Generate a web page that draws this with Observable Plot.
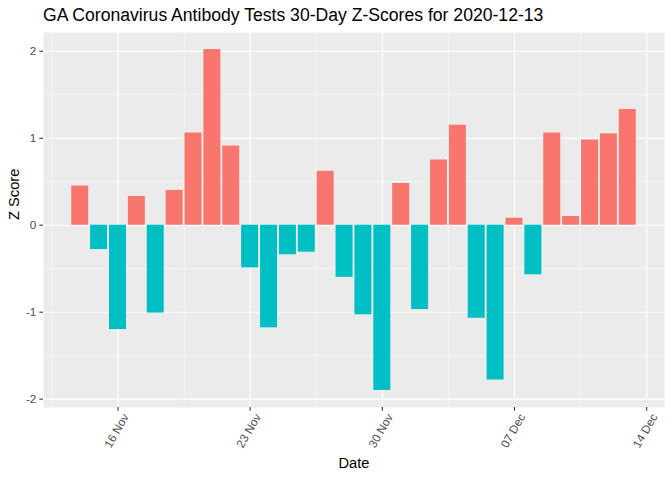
<!DOCTYPE html>
<html>
<head>
<meta charset="utf-8">
<script src="https://cdn.jsdelivr.net/npm/d3@7"></script>
<script src="https://cdn.jsdelivr.net/npm/@observablehq/plot@0.6"></script>
<style>
  body { margin: 0; background: #fff; font-family: "Liberation Sans", Arial, sans-serif; }
  #wrap { position: relative; width: 672px; height: 480px; background: #fff; }
  #title { height: 32px; box-sizing: border-box; padding-left: 43px; padding-top: 5px; font-size: 17.6px; color: #000; line-height: 20px; white-space: nowrap; }
</style>
</head>
<body>
<div id="wrap">
  <div id="title">GA Coronavirus Antibody Tests 30-Day Z-Scores for 2020-12-13</div>
  <div id="chart"></div>
</div>
<script>
// ---- data ----
const startDate = "2020-11-14";
const zScores = [
  0.45, -0.28, -1.20, 0.33, -1.01, 0.40, 1.06, 2.02, 0.91, -0.49,
  -1.18, -0.34, -0.31, 0.62, -0.60, -1.03, -1.90, 0.48, -0.97, 0.75,
  1.15, -1.07, -1.78, 0.08, -0.57, 1.06, 0.10, 0.98, 1.05, 1.33
];
const signLabels = ["Positive", "Negative"];
const signColors = ["#F8766D", "#00BFC4"];
const majorTickDates = ["2020-11-16", "2020-11-23", "2020-11-30", "2020-12-07", "2020-12-14"];
const minorTickDates = ["2020-11-12T12:00", "2020-11-19T12:00", "2020-11-26T12:00", "2020-12-03T12:00", "2020-12-10T12:00"];
const majorY = [-2, -1, 0, 1, 2];
const minorY = [-1.5, -0.5, 0.5, 1.5];

// ---- build ----
const DAY = 864e5;
const t0 = new Date(startDate + "T00:00Z").getTime();
const data = zScores.map((z, i) => ({
  date: new Date(t0 + i * DAY),
  z,
  sign: z > 0 ? "Positive" : "Negative"
}));
const toUTC = s => new Date(s + (s.includes("T") ? "Z" : "T00:00Z"));
const majorX = majorTickDates.map(toUTC);
const minorX = minorTickDates.map(toUTC);
const fmtDate = d3.utcFormat("%d %b");

// ggplot-like expansion
const half = 0.45 * DAY;
const xMin = t0 - half, xMax = t0 + (zScores.length - 1) * DAY + half;
const xPad = (xMax - xMin) * 0.05;
const yLo = Math.min(0, d3.min(zScores)), yHi = Math.max(0, d3.max(zScores));
const yPad = (yHi - yLo) * 0.05;

const chart = Plot.plot({
  width: 672,
  height: 448,
  marginLeft: 43,
  marginRight: 8,
  marginTop: 0,
  marginBottom: 73,
  style: { fontFamily: "Liberation Sans, Arial, sans-serif", background: "#fff", overflow: "visible" },
  x: { type: "utc", domain: [new Date(xMin - xPad), new Date(xMax + xPad)] },
  y: { domain: [yLo - yPad, yHi + yPad] },
  color: { domain: signLabels, range: signColors },
  marks: [
    Plot.frame({ fill: "#EBEBEB", stroke: null }),
    Plot.ruleY(minorY, { stroke: "#fff", strokeWidth: 0.53 }),
    Plot.ruleX(minorX, { stroke: "#fff", strokeWidth: 0.53 }),
    Plot.ruleY(majorY, { stroke: "#fff", strokeWidth: 1.07 }),
    Plot.ruleX(majorX, { stroke: "#fff", strokeWidth: 1.07 }),
    Plot.rectY(data, {
      x1: d => new Date(d.date.getTime() - half),
      x2: d => new Date(d.date.getTime() + half),
      y1: 0,
      y2: "z",
      fill: "sign"
    }),
    Plot.axisY({
      ticks: majorY, tickSize: 3.67, tickPadding: 3.5, fontSize: 11.7,
      tickFormat: d => String(d),
      stroke: "#333333", fill: "#4D4D4D", label: null, strokeWidth: 1.07
    }),
    Plot.axisX({
      ticks: majorX, tickSize: 3.67, text: null,
      stroke: "#333333", label: null, strokeWidth: 1.07
    }),
    Plot.text(majorX, {
      x: d => d, text: d => fmtDate(d), frameAnchor: "bottom",
      rotate: -60, textAnchor: "end", lineAnchor: "top",
      dx: 4, dy: 5, fontSize: 11.7, fill: "#4D4D4D"
    }),
    Plot.text(["Z Score"], { text: d => d, frameAnchor: "left", rotate: -90, dx: -29, fontSize: 14.67, fill: "#000" }),
    Plot.text(["Date"], { text: d => d, frameAnchor: "bottom", dy: 60, fontSize: 14.67, fill: "#000" })
  ]
});
document.getElementById("chart").appendChild(chart);
</script>
</body>
</html>
